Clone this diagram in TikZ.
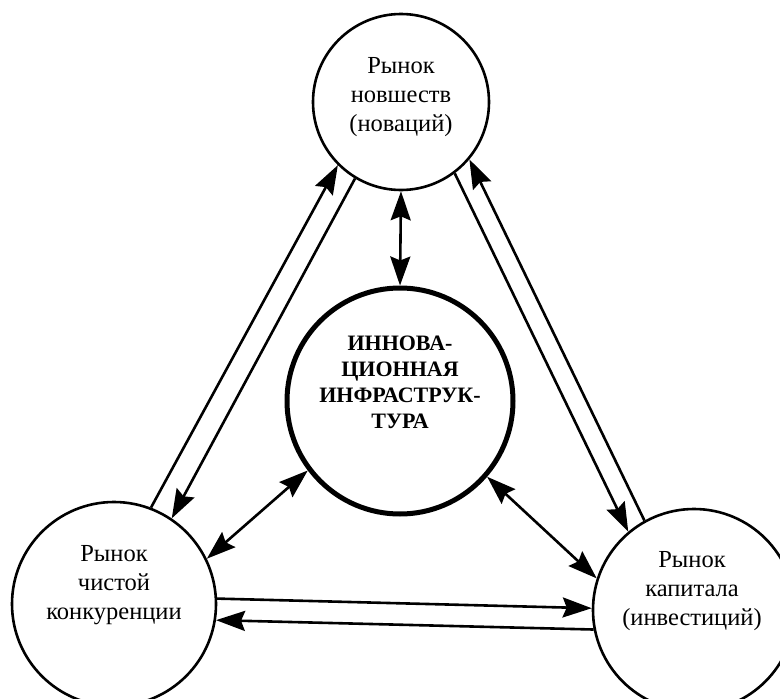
\documentclass[tikz,border=0pt]{standalone}
\usepackage{fontspec}
\setmainfont{Liberation Serif}
\usetikzlibrary{arrows.meta}
\begin{document}
\begin{tikzpicture}[x=1pt,y=-1pt,
  market/.style={circle,draw,line width=2.6pt,minimum size=#1,inner sep=0pt},
  infra/.style={circle,draw,line width=5pt,minimum size=#1,inner sep=0pt},
  mtext/.style={align=center,inner sep=0pt,font=\fontsize{24.5}{29}\selectfont},
  itext/.style={align=center,inner sep=0pt,font=\fontsize{22}{26}\selectfont\bfseries},
  conn/.style={line width=2.6pt,>={Stealth[length=29pt,width=20pt,inset=4pt]}}
]
\useasboundingbox (0,0) rectangle (780,699);
\clip (0,0) rectangle (780,699);
\fill[white] (0,0) rectangle (780,699);

\node[market=176pt] (top) at (401,102) {};
\node[infra=226pt] (inf) at (400,401) {};
\node[market=204pt] (bl) at (114,604) {};
\node[market=202pt] (br) at (694,610) {};

\node[mtext] (toptxt) at (401,97) {Рынок\\новшеств\\(новаций)};
\node[itext] (inftxt) at (400,382) {ИННОВА-\\ЦИОННАЯ\\ИНФРАСТРУК-\\ТУРА};
\node[mtext] (bltxt) at (114,585) {Рынок\\чистой\\конкуренции};
\node[mtext] (brtxt) at (692,591) {Рынок\\капитала\\(инвестиций)};

\draw[conn,->] (bl.69) -- (top.225);
\draw[conn,->] (top.239) -- (bl.56);
\draw[conn,->] (top.307.5) -- (br.130);
\draw[conn,->] (br.119) -- (top.320);
\draw[conn,<->] (top.south) -- (inf.north);
\draw[conn,<->] (bl.26) -- (inf.217.7);
\draw[conn,<->] (inf.319) -- (br.162.4);
\draw[conn,->] (bl.3.4) -- (br.179);
\draw[conn,->] (br.191.6) -- (bl.-9);
\end{tikzpicture}
\end{document}
